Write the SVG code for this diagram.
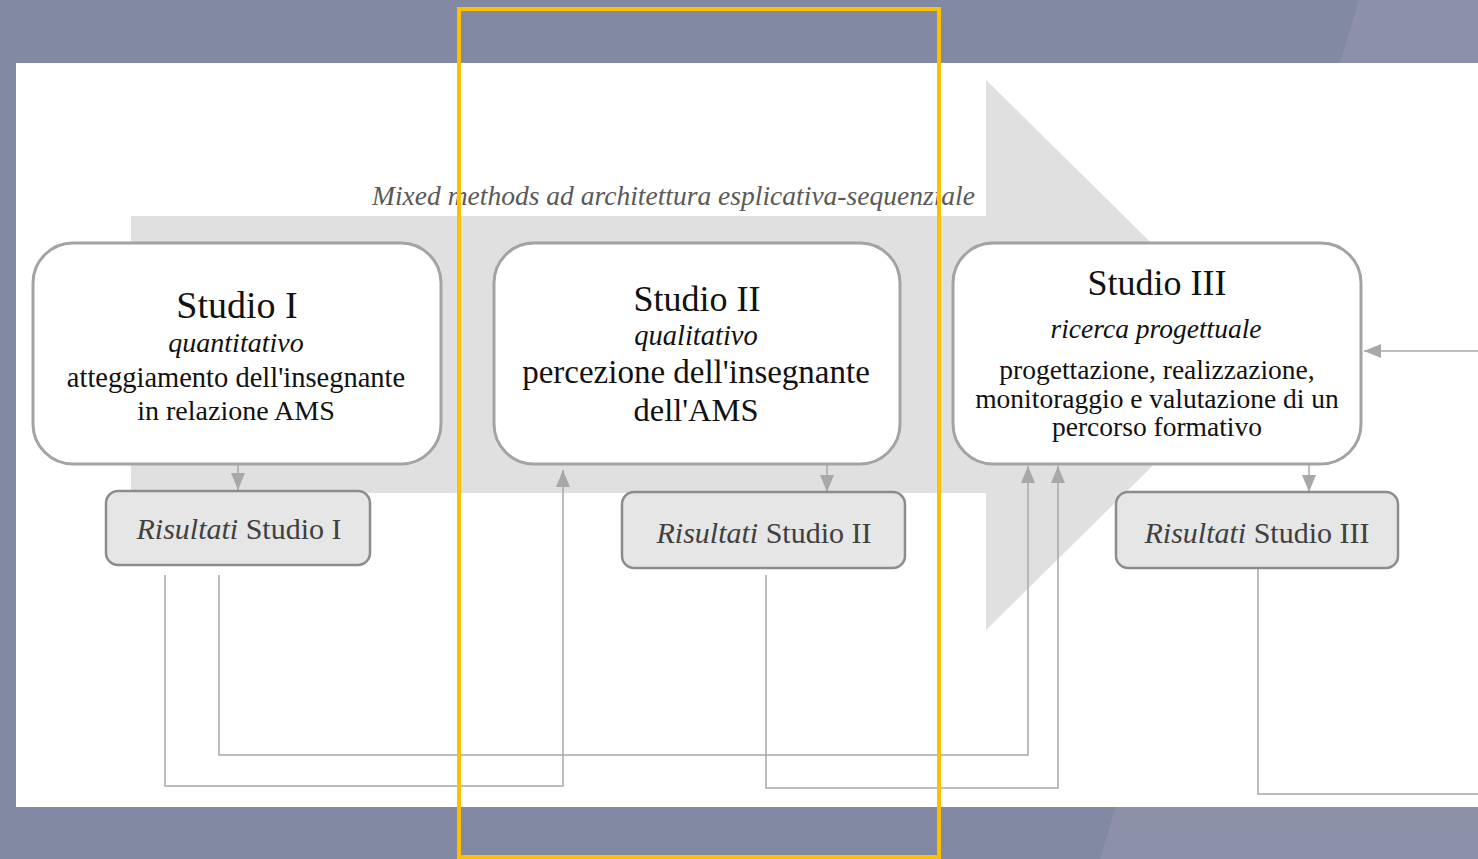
<svg xmlns="http://www.w3.org/2000/svg" width="1478" height="859" viewBox="0 0 1478 859">
<defs>
<style>
.serif{font-family:"Liberation Serif","Times New Roman",serif;}
.box{fill:#ffffff;stroke:#a3a3a3;stroke-width:3;}
.res{fill:#e6e6e6;stroke:#8c8c8c;stroke-width:2.5;}
.t{fill:#111111;text-anchor:middle;}
.r{fill:#404040;text-anchor:middle;}
.conn{fill:none;stroke:#a8a8a8;stroke-width:1.5;}
</style>
<marker id="ah" viewBox="0 0 10 10" refX="10" refY="5" markerWidth="17" markerHeight="14" markerUnits="userSpaceOnUse" orient="auto" preserveAspectRatio="none">
<path d="M0,0 L10,5 L0,10 z" fill="#a8a8a8"/>
</marker>
</defs>
<rect x="0" y="0" width="1478" height="859" fill="#8289a2"/>
<polygon points="1359,0 1478,0 1478,859 1100,859" fill="#8c90a9"/>
<rect x="16" y="63" width="1462" height="744" fill="#ffffff"/>
<polygon id="bigarrow" points="131,216 986,216 986,80 1265,355 986,630 986,493 131,493" fill="#e0e0e0"/>
<text class="serif" x="372" y="205" font-size="27" font-style="italic" fill="#595959" textLength="603" lengthAdjust="spacingAndGlyphs">Mixed methods ad architettura esplicativa-sequenziale</text>

<g id="connectors">
<path class="conn" d="M238,450 V490" marker-end="url(#ah)"/>
<path class="conn" d="M827,455 V492" marker-end="url(#ah)"/>
<path class="conn" d="M1309,452 V492" marker-end="url(#ah)"/>
<path class="conn" d="M165,575 V786 H563 V470" marker-end="url(#ah)"/>
<path class="conn" d="M219,575 V755 H1028 V466" marker-end="url(#ah)"/>
<path class="conn" d="M766,575 V788 H1058 V466" marker-end="url(#ah)"/>
<path class="conn" d="M1258,569 V794 H1478"/>
<path class="conn" d="M1478,351 H1364" marker-end="url(#ah)"/>
</g>

<g id="studio1">
<rect class="box" x="33" y="243" width="408" height="221" rx="40"/>
<text class="serif t" x="237" y="318" font-size="38">Studio I</text>
<text class="serif t" x="236" y="352" font-size="28" font-style="italic">quantitativo</text>
<text class="serif t" x="236" y="387" font-size="28.5">atteggiamento dell'insegnante</text>
<text class="serif t" x="236" y="420" font-size="28">in relazione AMS</text>
</g>

<g id="studio2">
<rect class="box" x="494" y="243" width="406" height="221" rx="40"/>
<text class="serif t" x="697" y="311" font-size="36">Studio II</text>
<text class="serif t" x="696" y="345" font-size="28.5" font-style="italic">qualitativo</text>
<text class="serif t" x="696" y="383" font-size="33">percezione dell'insegnante</text>
<text class="serif t" x="696" y="421" font-size="32.5">dell'AMS</text>
</g>

<g id="studio3">
<rect class="box" x="953" y="243" width="408" height="221" rx="40"/>
<text class="serif t" x="1157" y="295" font-size="36">Studio III</text>
<text class="serif t" x="1156" y="338" font-size="27.5" font-style="italic">ricerca progettuale</text>
<text class="serif t" x="1157" y="379" font-size="27.5">progettazione, realizzazione,</text>
<text class="serif t" x="1157" y="408" font-size="27.5">monitoraggio e valutazione di un</text>
<text class="serif t" x="1157" y="436" font-size="27.5">percorso formativo</text>
</g>

<g id="risultati1">
<rect class="res" x="106" y="491" width="264" height="74" rx="12"/>
<text class="serif r" x="239" y="539" font-size="30"><tspan font-style="italic">Risultati</tspan> Studio I</text>
</g>

<g id="risultati2">
<rect class="res" x="622" y="492" width="283" height="76" rx="12"/>
<text class="serif r" x="764" y="543" font-size="30"><tspan font-style="italic">Risultati</tspan> Studio II</text>
</g>

<g id="risultati3">
<rect class="res" x="1116" y="492" width="282" height="76" rx="12"/>
<text class="serif r" x="1257" y="543" font-size="30"><tspan font-style="italic">Risultati</tspan> Studio III</text>
</g>

<rect x="459" y="9" width="480" height="848" fill="none" stroke="#ffc000" stroke-width="4"/>
</svg>
